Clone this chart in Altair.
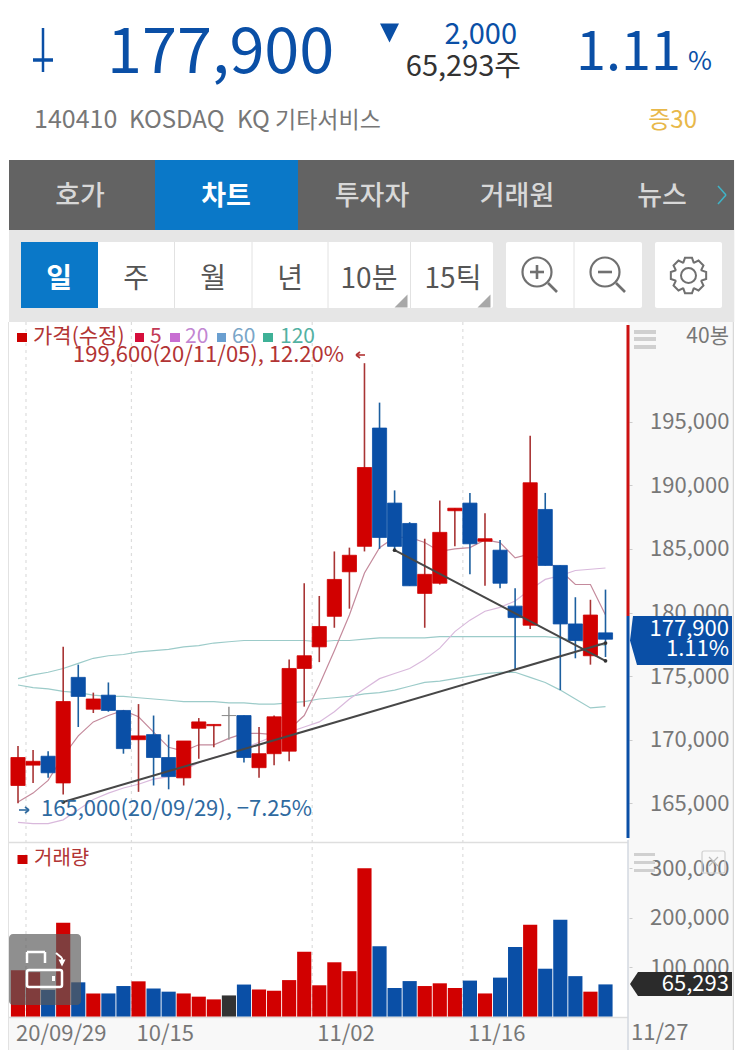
import math
import altair as alt
import pandas as pd

dates = ["09/29","10/05","10/06","10/07","10/08","10/12","10/13","10/14","10/15","10/16",
         "10/19","10/20","10/21","10/22","10/23","10/26","10/27","10/28","10/29","10/30",
         "11/02","11/03","11/04","11/05","11/06","11/09","11/10","11/11","11/12","11/13",
         "11/16","11/17","11/18","11/19","11/20","11/23","11/24","11/25","11/26","11/27"]
opens = [166400,168000,168700,166600,174900,172400,173500,172300,170000,170400,
         168600,167000,170900,171100,171900,171900,167800,168900,169100,175600,
         177300,179700,183200,185200,194500,188600,187000,181500,182300,188000,
         188600,185600,184900,180500,179000,188100,183700,179100,176600,178400]
highs = [169500,169200,169100,177300,175900,173700,174500,172300,172800,171900,
         170400,169900,171700,171200,172600,171900,171000,171900,176300,182300,
         181300,184800,185100,199600,196500,189600,187100,185800,188800,188200,
         189400,187800,185700,181900,193900,189400,183700,181200,181000,181800]
lows = [165000,166600,167000,165700,171000,172100,172200,168900,165900,166400,
        166100,166400,168500,169400,170000,168200,167000,168000,168300,172600,
        176100,178800,180300,184800,185000,184900,182100,178800,182200,185200,
        183000,182100,181900,175500,178700,183700,173900,176400,175900,176500]
closes = [168600,168300,167400,173000,173400,173200,172300,169300,170300,168600,
          167100,169900,171400,171200,171900,168600,168900,171800,175600,176600,
          178900,182600,184500,191400,185900,185200,182100,183000,186300,188200,
          185400,185800,182300,179600,190200,183700,179100,177800,179800,177900]
ma5 = [165100,165800,166800,168700,170300,171400,171900,172300,171800,170600,
       169400,169100,169600,169600,170100,170500,170500,170400,170800,171900,
       174300,177000,179800,183100,185100,185900,185900,185500,184800,185000,
       185100,185700,185500,184300,184600,184100,183300,182200,182200,179800]
ma20 = [163500,163400,163400,163700,164500,165300,165800,166200,166500,166900,
        167100,167600,168200,168600,168900,169300,169800,170300,170600,171000,
        171400,172200,173200,174000,174800,175200,175600,176300,177200,178500,
        179400,180100,180400,180900,181800,182600,182900,183300,183400,183500]
band_up = [174800,175100,175300,175600,176000,176400,176600,176700,176900,177000,
           177100,177300,177400,177600,177700,177800,177800,177800,177800,177800,
           177700,177800,177800,177900,178000,178000,178000,178000,178100,178100,
           178100,178100,178100,178100,178100,178100,178000,177800,177700,177400]
band_low = [174300,174100,174000,173800,173700,173500,173400,173400,173300,173200,
            173100,173000,173000,173000,172900,172900,172800,172800,172900,173000,
            173200,173300,173400,173600,173700,173900,174200,174500,174600,174800,
            175000,175200,175300,175300,174900,174500,173900,173200,172500,172600]
volumes = [94000,90000,54000,190000,69500,47000,47000,62000,71500,57000,
           50600,47000,40500,35000,43000,65000,55000,52500,74000,131500,
           63500,110000,92000,300000,142500,58000,72000,62000,67500,58000,
           73000,47000,79000,141000,186000,97000,196000,82000,50600,65293]
trend_up_dates = ["10/07","11/27"]
trend_up_prices = [165100,177600]
trend_down_dates = ["11/09","11/27"]
trend_down_prices = [184900,176200]
grid_dates = ["10/05","10/15","11/02","11/16"]
price_ticks = [165000,170000,175000,180000,185000,190000,195000]
volume_ticks = [100000,200000,300000]
date_ticks = ["09/29","10/15","11/02","11/16"]

direction = ["up" if c > o else ("down" if c < o else "flat") for o, c in zip(opens, closes)]
df = pd.DataFrame(dict(date=dates, open=opens, high=highs, low=lows, close=closes,
                       ma5=ma5, ma20=ma20, up=band_up, low2=band_low,
                       volume=volumes, dir=direction))

FONT = "Noto Sans CJK KR"
OFF = 8
W, H = 727, 1044
RED, BLUE = "#d10000", "#0a4fa6"
TAB_BLUE = "#0a78c8"
GREY = "#777777"

xs = alt.Scale(domain=dates, range=[2.47, 605.03], paddingInner=0.06, paddingOuter=0.03)
ys = alt.Scale(domain=[165000, 195000], range=[795.3, 413.7], nice=False, zero=False)
yv = alt.Scale(domain=[0, 300000], range=[1008.7, 860.3], nice=False, zero=False)

X = alt.X("date:N", scale=xs, sort=None, axis=None)
dir_domain = ["up", "down", "flat"]
body_col = alt.Color("dir:N", scale=alt.Scale(domain=dir_domain, range=[RED, BLUE, "#8a8a8a"]), legend=None)
wick_col = alt.Color("dir:N", scale=alt.Scale(domain=dir_domain, range=["#a83434", "#1c5f9f", "#9a9a9a"]), legend=None)
vol_col = alt.Color("dir:N", scale=alt.Scale(domain=dir_domain, range=[RED, BLUE, "#333333"]), legend=None)


def box(x0, y0, x1, y1, color, radius=0, opacity=1):
    return alt.Chart().mark_rect(color=color, cornerRadius=radius, opacity=opacity).encode(
        x=alt.value(x0 - OFF), x2=alt.value(x1 - OFF), y=alt.value(y0 - OFF), y2=alt.value(y1 - OFF))


def frame(x0, y0, x1, y1, color, width=1.5, radius=0):
    return alt.Chart().mark_rect(fill=None, stroke=color, strokeWidth=width, cornerRadius=radius).encode(
        x=alt.value(x0 - OFF), x2=alt.value(x1 - OFF), y=alt.value(y0 - OFF), y2=alt.value(y1 - OFF))


def seg(x0, y0, x1, y1, color, width=1.0, dash=None):
    kw = {"strokeDash": dash} if dash else {}
    return alt.Chart().mark_rule(color=color, strokeWidth=width, **kw).encode(
        x=alt.value(x0 - OFF), x2=alt.value(x1 - OFF), y=alt.value(y0 - OFF), y2=alt.value(y1 - OFF))


def txt(s, x, y, size, color, align="left", weight=400, font=FONT):
    return alt.Chart().mark_text(text=s, font=font, fontSize=size, color=color, align=align,
                                 baseline="alphabetic", fontWeight=weight).encode(
        x=alt.value(x - OFF), y=alt.value(y - OFF))


def sym(path, x, y, extent, color=None, stroke=None, width=1.5):
    kw = dict(shape=path, size=extent * extent, opacity=1)
    if color:
        kw.update(filled=True, color=color, strokeWidth=0)
    else:
        kw.update(filled=False, stroke=stroke, strokeWidth=width)
    return alt.Chart().mark_point(**kw).encode(x=alt.value(x - OFF), y=alt.value(y - OFF))


def gear_path(teeth=8, r_out=1.0, r_in=0.78):
    pts = []
    for i in range(teeth):
        a = 2 * math.pi * i / teeth
        w = math.pi / teeth
        for da, r in [(-w * 0.95, r_in), (-w * 0.5, r_out), (w * 0.5, r_out), (w * 0.95, r_in)]:
            pts.append((r * math.cos(a + da), r * math.sin(a + da)))
    return "M" + " L".join(f"{px:.3f},{py:.3f}" for px, py in pts) + " Z"


layers = []
layers += [
    box(8, 8, 735, 160, "#ffffff"),
    box(8, 160, 9, 1052, "#ffffff"),
    seg(733.5, 322, 733.5, 1050, "#d8d8d8", 1.5),
    box(734, 322, 735, 1052, "#ffffff"),
    box(8, 1050, 735, 1052, "#ffffff"),
    box(9, 322, 628, 842, "#ffffff"),
    box(9, 843, 628, 1017, "#ffffff"),
    seg(9, 842.5, 628, 842.5, "#dedede", 1.5),
    seg(8.5, 322, 8.5, 1050, "#e2e2e2", 1),
]
layers += [
    seg(43, 28, 43, 72, BLUE, 2.5),
    seg(33, 60, 53, 60, BLUE, 3.5),
    txt("177,900", 107, 73, 63, BLUE),
    sym("M-1,-1 L1,-1 L0,1 Z", 389.5, 33, 19, color=BLUE),
    txt("2,000", 517, 44, 29, BLUE, "right"),
    txt("65,293주", 521, 76, 29, "#333333", "right"),
    txt("1.11", 576, 70, 54, BLUE),
    txt("%", 712, 70, 26, BLUE, "right"),
    txt("140410", 34, 128, 25, GREY),
    txt("KOSDAQ", 129, 128, 24, GREY),
    txt("KQ", 237, 128, 24, GREY),
    txt("기타서비스", 275, 128, 23, GREY),
    txt("증30", 697, 128, 24, "#e8b84a", "right"),
]
layers += [
    box(9, 160, 734, 230, "#636363"),
    box(155, 160, 298, 230, TAB_BLUE),
    box(9, 230, 734, 322, "#e6e6e6"),
]
for s, cx in [("호가", 80), ("투자자", 372), ("거래원", 517), ("뉴스", 662)]:
    layers.append(txt(s, cx, 205, 27, "#d8d8d8", "center", 500))
layers += [
    txt("차트", 226, 205, 27, "#ffffff", "center", 700),
    seg(718, 186, 726, 195, "#3fb4c8", 1.5),
    seg(726, 195, 718, 204, "#3fb4c8", 1.5),
]
layers += [
    box(21, 242, 493, 308, "#ffffff", 2),
    box(21, 242, 98, 308, TAB_BLUE),
    box(506, 242, 642, 308, "#ffffff", 2),
    box(655, 242, 722, 308, "#ffffff", 2),
    seg(174.5, 242, 174.5, 308, "#e2e2e2", 1),
    seg(252, 242, 252, 308, "#e2e2e2", 1),
    seg(328, 242, 328, 308, "#e2e2e2", 1),
    seg(410.5, 242, 410.5, 308, "#e2e2e2", 1),
    seg(574, 242, 574, 308, "#e2e2e2", 1),
    txt("일", 59, 288, 28, "#ffffff", "center", 700),
]
for s, cx in [("주", 136), ("월", 213), ("년", 290), ("10분", 369), ("15틱", 453)]:
    layers.append(txt(s, cx, 288, 28, "#555555", "center"))
for cx in [401, 484]:
    layers.append(sym("M1,-1 L1,1 L-1,1 Z", cx, 301, 13, color="#a8a8a8"))
for cx in [537, 605]:
    layers += [
        alt.Chart().mark_point(shape="circle", size=29 * 29, filled=False, stroke="#707070", strokeWidth=2.2, opacity=1)
        .encode(x=alt.value(cx - OFF), y=alt.value(272 - OFF)),
        seg(cx + 11, 283, cx + 20, 292, "#707070", 2.6),
        seg(cx - 7, 272, cx + 7, 272, "#707070", 2.6),
    ]
layers.append(seg(537, 265, 537, 279, "#707070", 2.6))
layers += [
    sym(gear_path(), 688.5, 275.5, 36, stroke="#707070", width=2),
    alt.Chart().mark_point(shape="circle", size=15 * 15, filled=False, stroke="#707070", strokeWidth=2, opacity=1)
    .encode(x=alt.value(688.5 - OFF), y=alt.value(275.5 - OFF)),
]

base = alt.Chart(df)
grid_df = pd.DataFrame({"date": grid_dates})
layers.append(
    alt.Chart(grid_df).mark_rule(color="#dddddd", strokeWidth=1.2, strokeDash=[3, 4]).encode(
        x=alt.X("date:N", scale=xs, sort=None, axis=None, bandPosition=0),
        y=alt.value(322 - OFF), y2=alt.value(1017 - OFF)))

for col, colr, w in [("up", "#9ccbc9", 1.2), ("low2", "#9ccbc9", 1.2), ("ma20", "#d9b9dc", 1.2), ("ma5", "#c48a9c", 1.2)]:
    layers.append(base.mark_line(color=colr, strokeWidth=w).encode(
        x=X, y=alt.Y(f"{col}:Q", scale=ys, axis=None)))

NUM = "format(datum.value, ',.0f')"
price_axis = alt.Axis(orient="right", offset=621 - W, values=price_ticks, labelExpr=NUM, title=None, grid=False,
                      domain=False, ticks=True, tickSize=3, tickColor="#cccccc", labelPadding=97,
                      labelAlign="right", labelFont=FONT, labelFontSize=22, labelColor=GREY,
                      labelOverlap=False, labelBound=False, labelFlush=False)
layers.append(base.mark_rule(strokeWidth=1.6).encode(
    x=X, y=alt.Y("low:Q", scale=ys, axis=price_axis), y2="high:Q", color=wick_col))
layers.append(base.mark_bar(strokeWidth=0.8).encode(
    x=X, y=alt.Y("open:Q", scale=ys, axis=None), y2="close:Q", color=body_col, stroke=body_col))

for ds, ps in [(trend_up_dates, trend_up_prices), (trend_down_dates, trend_down_prices)]:
    tdf = pd.DataFrame({"date": ds, "price": ps})
    enc = dict(x=X, y=alt.Y("price:Q", scale=ys, axis=None))
    layers.append(alt.Chart(tdf).mark_line(color="#474747", strokeWidth=2).encode(**enc))
    layers.append(alt.Chart(tdf).mark_point(color="#333333", filled=True, size=14, opacity=1).encode(**enc))

volume_axis = alt.Axis(orient="right", offset=621 - W, values=volume_ticks, labelExpr=NUM, title=None, grid=False,
                       domain=False, ticks=True, tickSize=3, tickColor="#cccccc", labelPadding=97,
                       labelAlign="right", labelFont=FONT, labelFontSize=22, labelColor=GREY,
                       labelOverlap=False, labelBound=False, labelFlush=False)
date_axis = alt.Axis(orient="bottom", offset=1009 - H, values=date_ticks, title=None, grid=False, domain=False,
                     ticks=False, bandPosition=0, labelAlign="left", labelOffset=-2, labelBaseline="alphabetic",
                     labelPadding=23, labelFont=FONT, labelFontSize=22, labelColor=GREY, labelAngle=0,
                     labelOverlap=False, labelBound=False, labelFlush=False,
                     labelExpr="datum.value == '09/29' ? '20/09/29' : datum.label")
layers.append(base.mark_bar().encode(
    x=alt.X("date:N", scale=xs, sort=None, axis=date_axis),
    y=alt.Y("volume:Q", scale=yv, axis=volume_axis), color=vol_col))
layers.append(seg(9, 1017.5, 628, 1017.5, "#dddddd", 1.5))

layers += [
    seg(628, 325, 628, 616, "#cc1111", 3),
    seg(628, 616, 628, 838, BLUE, 3),
    seg(628, 840, 628, 1050, "#d3d9e0", 1.5),
    box(634, 330, 656, 334, "#d0d0d0"), box(634, 337, 656, 341, "#d0d0d0"), box(634, 345, 656, 349, "#d0d0d0"),
    txt("40봉", 729, 343, 21, GREY, "right"),
    sym("M-0.941,-0.48 L1,-0.48 L1,0.48 L-0.863,0.48 L-1,0 Z", 681, 640.5, 102, color=BLUE),
    txt("177,900", 729, 636, 22, "#ffffff", "right"),
    txt("1.11%", 729, 656, 22, "#ffffff", "right"),
    box(634, 853, 655, 856, "#d0d0d0"), box(634, 861, 655, 864, "#d0d0d0"), box(634, 869, 655, 872, "#d0d0d0"),
    frame(702, 851, 725, 873, "#cfcfcf", 1.2, 2),
    seg(709, 857, 718, 866, "#bdbdbd", 1.2), seg(718, 857, 709, 866, "#bdbdbd", 1.2),
    sym("M-0.843,-0.235 L1,-0.235 L1,0.235 L-0.843,0.235 L-1,0 Z", 681, 984, 102, color="#2b2b2b"),
    txt("65,293", 729, 991, 22, "#ffffff", "right"),
    txt("11/27", 631, 1040, 22, GREY),
]
TXT_RED = "#b23434"
layers += [
    box(17, 333, 27, 342, "#cc0000"),
    txt("가격(수정)", 33, 343, 21, TXT_RED),
    box(135, 333, 144, 342, "#d60f3c"),
    txt("5", 150, 343, 21, "#c23a55"),
    box(170, 333, 180, 342, "#c86ed2"),
    txt("20", 185, 343, 21, "#c286d2"),
    box(217, 333, 226, 342, "#6a9fd0"),
    txt("60", 232, 343, 21, "#7aa6c8"),
    box(263, 333, 273, 342, "#3fb197"),
    txt("120", 280, 343, 21, "#52b1a2"),
    txt("199,600(20/11/05), 12.20%", 73, 362, 22, TXT_RED),
    seg(356, 355, 365, 355, TXT_RED, 1.6),
    seg(356, 355, 360, 352, TXT_RED, 1.6),
    seg(356, 355, 360, 358, TXT_RED, 1.6),
    seg(19, 810, 29, 810, "#2f6a9f", 1.6),
    seg(29, 810, 25, 807, "#2f6a9f", 1.6),
    seg(29, 810, 25, 813, "#2f6a9f", 1.6),
    txt("165,000(20/09/29), −7.25%", 41, 816, 22, "#2f6a9f"),
    box(17.5, 855, 27.5, 864, "#cc0000"),
    txt("거래량", 34, 865, 20, TXT_RED),
]
layers += [
    box(9, 934, 81, 1005, "#5a5a5a", 4, 0.68),
    frame(27, 970, 62, 987, "#ffffff", 2.5, 2),
    seg(27, 952, 45, 952, "#ffffff", 2.5),
    seg(27, 952, 27, 963, "#ffffff", 2.5),
    seg(45, 952, 45, 963, "#ffffff", 2.5),
    box(52, 976, 55, 981, "#ffffff"),
    seg(56, 953, 62, 958, "#ffffff", 2),
    seg(62, 958, 62, 963, "#ffffff", 2),
    sym("M-1,-1 L1,-1 L0,1 Z", 62, 963, 7, color="#ffffff"),
]

chart = alt.layer(*layers).resolve_scale(x="independent", y="independent", color="independent", stroke="independent").properties(
    width=W, height=H, background="#f8f8f8", padding=0,
    autosize=alt.AutoSizeParams(type="none", contains="content"),
).configure_view(stroke=None)

chart.save("out.html", embed_options={"renderer": "svg", "actions": False})
